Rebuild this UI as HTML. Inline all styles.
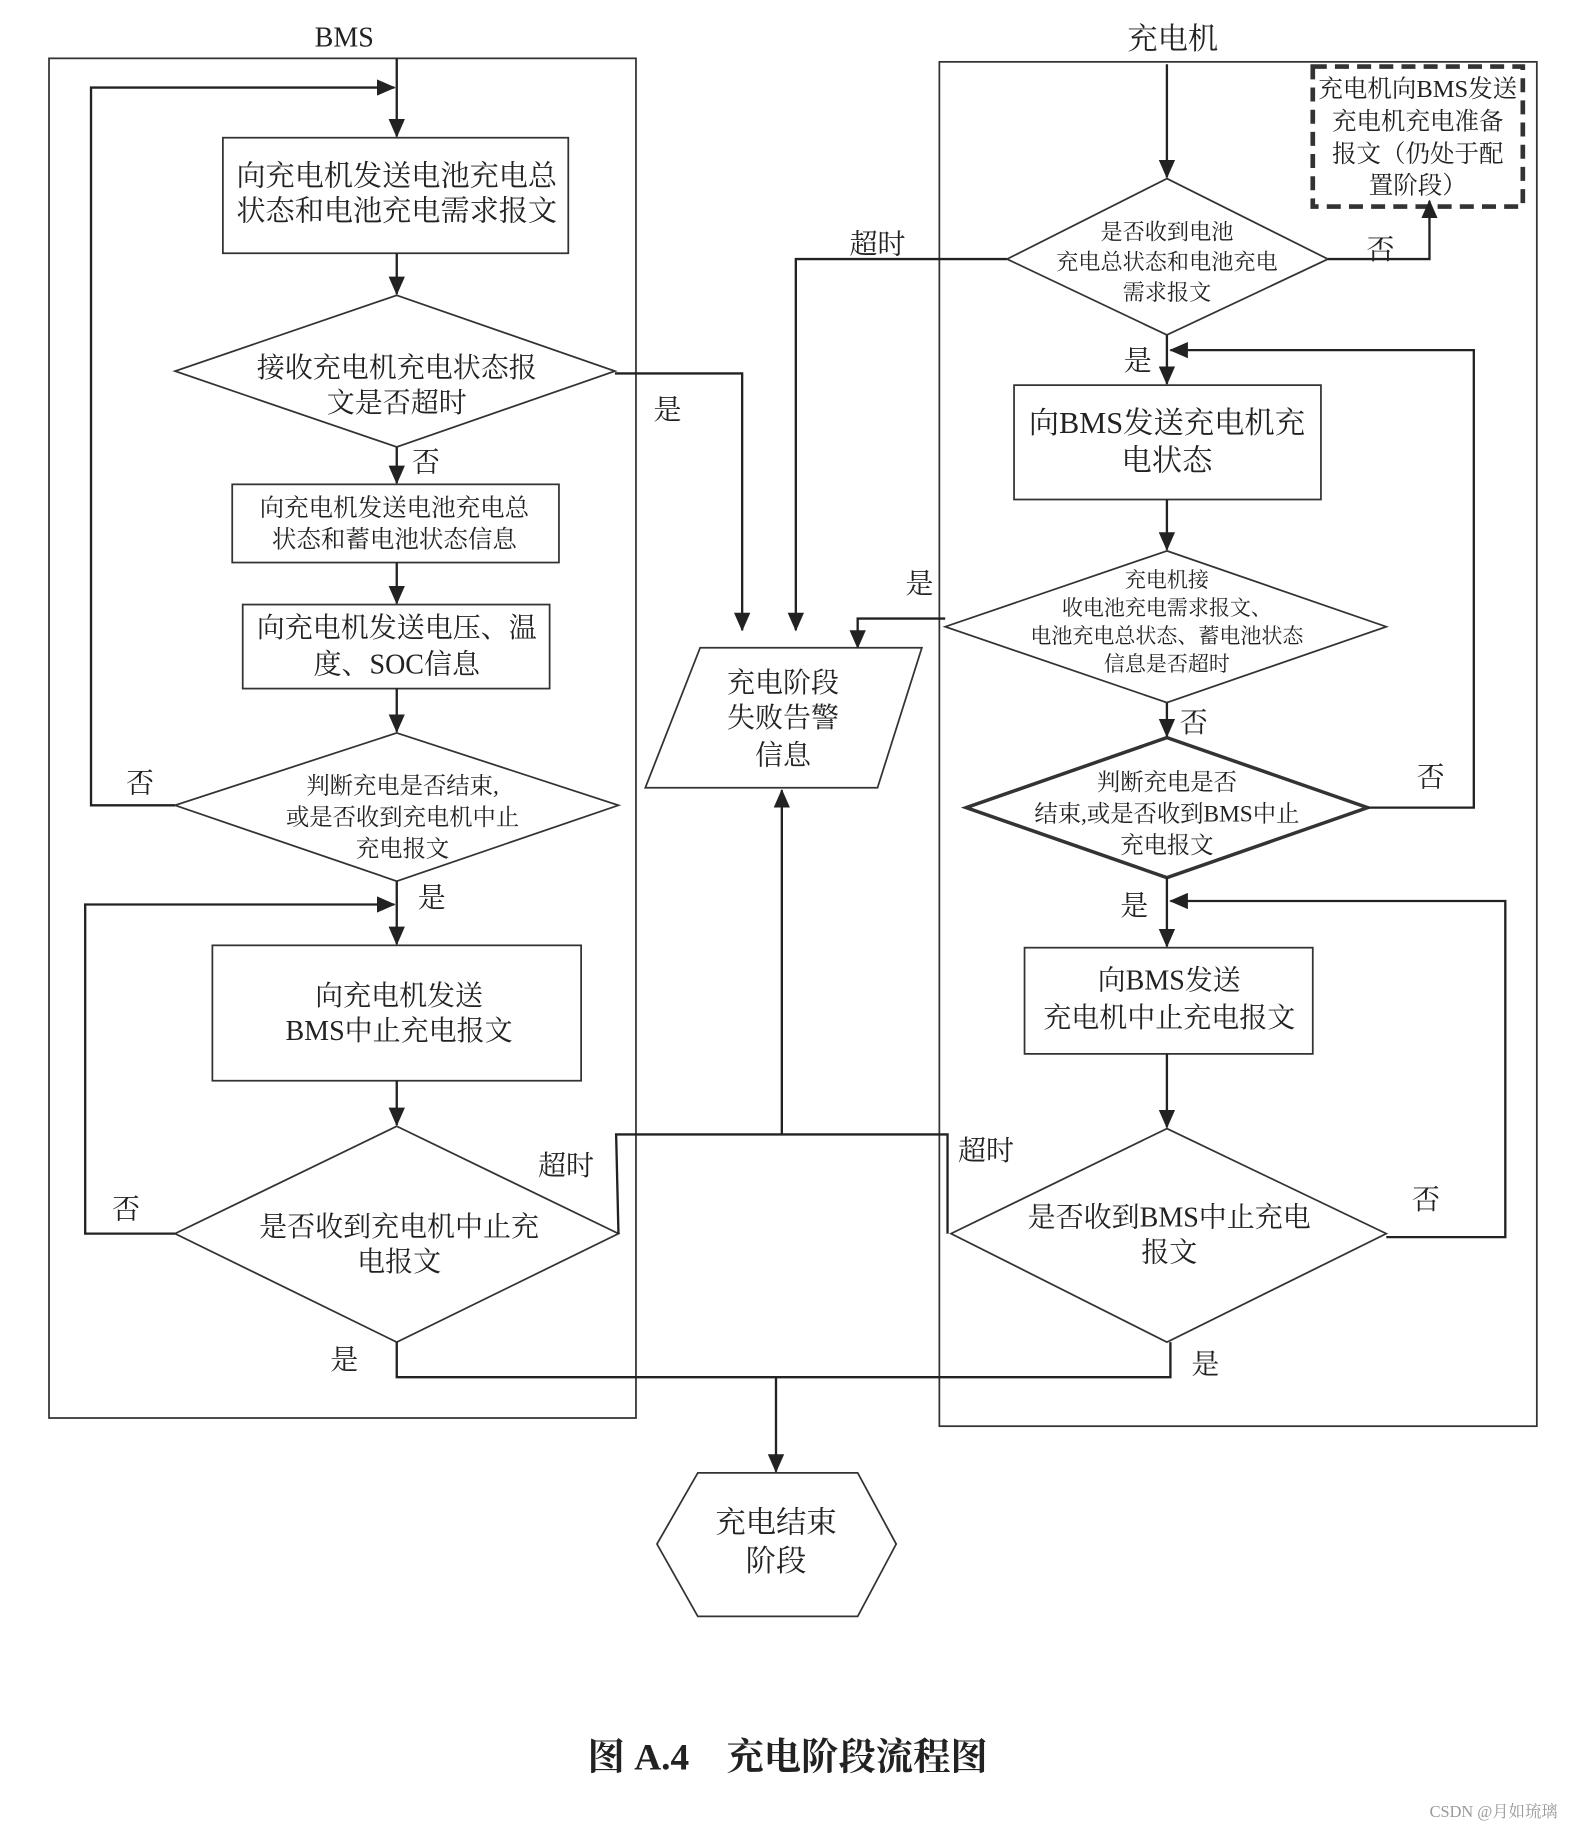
<!DOCTYPE html>
<html><head><meta charset="utf-8"><style>
html,body{margin:0;padding:0;background:#fff;}
svg{display:block}
text{font-family:"Liberation Serif","Noto Serif CJK SC",serif;fill:#222;text-anchor:middle;}
</style></head><body>
<svg width="1587" height="1844" viewBox="0 0 1360 1580" preserveAspectRatio="none" xmlns="http://www.w3.org/2000/svg">
<defs><marker id="a" markerWidth="10" markerHeight="10" refX="9" refY="5" orient="auto" markerUnits="userSpaceOnUse"><path d="M0,0 L10,5 L0,10 z" fill="#222"/></marker>
<marker id="b" markerWidth="16" markerHeight="14" refX="15" refY="7" orient="auto" markerUnits="userSpaceOnUse"><path d="M0,0 L16,7 L0,14 z" fill="#222"/></marker></defs>
<rect width="1360" height="1580" fill="#fff"/>
<g fill="none" stroke="#333" stroke-width="1.5">
<rect x="42" y="50" width="503" height="1165"/>
<rect x="805" y="53" width="512" height="1169"/>
<rect x="191" y="118" width="296" height="99"/>
<rect x="199" y="415" width="280" height="67"/>
<rect x="208" y="518" width="263" height="72"/>
<rect x="182" y="810" width="316" height="116"/>
<polygon points="340,253 527,318 340,383 150,318"/>
<polygon points="340,628 530,690 340,755 150,690"/>
<polygon points="340,965 530,1057 340,1150 150,1057"/>
<polygon points="600,555 790,555 752,675 553,675"/>
<polygon points="598,1262 735,1262 768,1323 735,1385 598,1385 563,1323"/>
<polygon points="1000,153 1138,222 1000,287 863,222"/>
<rect x="869" y="330" width="263" height="98"/>
<polygon points="1000,472 1188,537 1000,602 810,537"/>
<polygon points="1000,632 1172,692 1000,752 828,692" stroke-width="3"/>
<rect x="878" y="812" width="247" height="91"/>
<polygon points="1000,967 1188,1057 1000,1150 815,1057"/>
<rect x="1125" y="57" width="180" height="120" stroke-width="4" stroke-dasharray="12,7"/>
</g>
<g fill="none" stroke="#222" stroke-width="2">
<line x1="340" y1="50" x2="340" y2="117" marker-end="url(#b)"/>
<polyline points="150,690 78,690 78,75 338,75" marker-end="url(#b)"/>
<line x1="340" y1="217" x2="340" y2="252" marker-end="url(#b)"/>
<polyline points="527,320 636,320 636,540" marker-end="url(#b)"/>
<line x1="340" y1="383" x2="340" y2="414" marker-end="url(#b)"/>
<line x1="340" y1="482" x2="340" y2="517" marker-end="url(#b)"/>
<line x1="340" y1="590" x2="340" y2="627" marker-end="url(#b)"/>
<line x1="340" y1="755" x2="340" y2="809" marker-end="url(#b)"/>
<polyline points="150,1057 73,1057 73,775 338,775" marker-end="url(#b)"/>
<line x1="340" y1="926" x2="340" y2="964" marker-end="url(#b)"/>
<polyline points="530,1057 528,972 812,972 812,1057"/>
<line x1="670" y1="972" x2="670" y2="677" marker-end="url(#b)"/>
<polyline points="340,1150 340,1180 1003,1180 1003,1150"/>
<line x1="665" y1="1180" x2="665" y2="1261" marker-end="url(#b)"/>
<line x1="1000" y1="55" x2="1000" y2="152" marker-end="url(#b)"/>
<polyline points="1138,222 1225,222 1225,172" marker-end="url(#b)"/>
<polyline points="863,222 682,222 682,540" marker-end="url(#b)"/>
<line x1="1000" y1="287" x2="1000" y2="329" marker-end="url(#b)"/>
<polyline points="1172,692 1263,692 1263,300 1003,300" marker-end="url(#b)"/>
<line x1="1000" y1="428" x2="1000" y2="471" marker-end="url(#b)"/>
<polyline points="810,530 735,530 735,555" marker-end="url(#b)"/>
<line x1="1000" y1="602" x2="1000" y2="631" marker-end="url(#b)"/>
<line x1="1000" y1="752" x2="1000" y2="811" marker-end="url(#b)"/>
<polyline points="1188,1060 1290,1060 1290,772 1003,772" marker-end="url(#b)"/>
<line x1="1000" y1="903" x2="1000" y2="966" marker-end="url(#b)"/>
</g>
<g font-size="24">
<text x="295" y="40">BMS</text>
<text x="1005" y="42" font-size="26">充电机</text>
<text x="340" y="159" font-size="25">向充电机发送电池充电总</text>
<text x="340" y="189" font-size="25">状态和电池充电需求报文</text>
<text x="340" y="323">接收充电机充电状态报</text>
<text x="340" y="353">文是否超时</text>
<text x="572" y="359">是</text>
<text x="365" y="404">否</text>
<text x="338" y="442" font-size="21">向充电机发送电池充电总</text>
<text x="338" y="469" font-size="21">状态和蓄电池状态信息</text>
<text x="340" y="546">向充电机发送电压、温</text>
<text x="340" y="577">度、SOC信息</text>
<text x="345" y="680" font-size="20">判断充电是否结束,</text>
<text x="345" y="707" font-size="20">或是否收到充电机中止</text>
<text x="345" y="734" font-size="20">充电报文</text>
<text x="120" y="679">否</text>
<text x="370" y="777">是</text>
<text x="342" y="861">向充电机发送</text>
<text x="342" y="891">BMS中止充电报文</text>
<text x="342" y="1059">是否收到充电机中止充</text>
<text x="342" y="1089">电报文</text>
<text x="108" y="1044">否</text>
<text x="485" y="1007">超时</text>
<text x="295" y="1173">是</text>
<text x="671" y="593">充电阶段</text>
<text x="671" y="623">失败告警</text>
<text x="671" y="655">信息</text>
<text x="665" y="1313" font-size="26">充电结束</text>
<text x="665" y="1346" font-size="26">阶段</text>
<text x="1000" y="205" font-size="19">是否收到电池</text>
<text x="1000" y="231" font-size="19">充电总状态和电池充电</text>
<text x="1000" y="257" font-size="19">需求报文</text>
<text x="1183" y="222">否</text>
<text x="752" y="217">超时</text>
<text x="1215" y="83" font-size="21">充电机向BMS发送</text>
<text x="1215" y="111" font-size="21">充电机充电准备</text>
<text x="1215" y="139" font-size="21">报文（仍处于配</text>
<text x="1215" y="166" font-size="21">置阶段）</text>
<text x="975" y="317">是</text>
<text x="1000" y="371" font-size="26">向BMS发送充电机充</text>
<text x="1000" y="403" font-size="26">电状态</text>
<text x="1000" y="503" font-size="18">充电机接</text>
<text x="1000" y="527" font-size="18">收电池充电需求报文、</text>
<text x="1000" y="551" font-size="18">电池充电总状态、蓄电池状态</text>
<text x="1000" y="575" font-size="18">信息是否超时</text>
<text x="788" y="508">是</text>
<text x="1023" y="627">否</text>
<text x="1226" y="674">否</text>
<text x="1000" y="677" font-size="20">判断充电是否</text>
<text x="1000" y="704" font-size="20">结束,或是否收到BMS中止</text>
<text x="1000" y="731" font-size="20">充电报文</text>
<text x="972" y="784">是</text>
<text x="1002" y="848">向BMS发送</text>
<text x="1002" y="880">充电机中止充电报文</text>
<text x="1002" y="1051">是否收到BMS中止充电</text>
<text x="1002" y="1081">报文</text>
<text x="845" y="994">超时</text>
<text x="1222" y="1036">否</text>
<text x="1033" y="1177">是</text>
<text x="675" y="1516" font-size="32" font-weight="bold">图 A.4　充电阶段流程图</text>
<text x="1280" y="1557" font-size="14" fill="#999" style="fill:#999">CSDN @月如琉璃</text>
</g>
</svg>
</body></html>
